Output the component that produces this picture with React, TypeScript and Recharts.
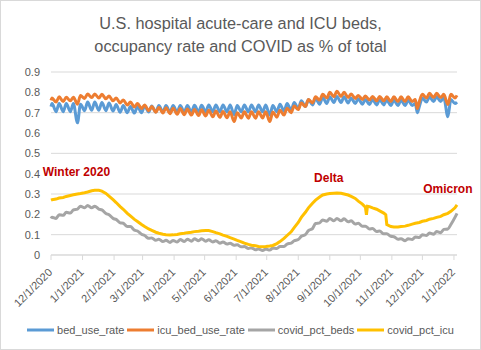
import React from 'react';
import { LineChart, Line, XAxis, YAxis, CartesianGrid, ReferenceDot } from 'recharts';

// Day offsets since 12/1/2020
const days = [0,1,5,8,12,15,19,22,26,29,33,36,40,43,47,50,54,57,61,64,68,71,75,78,82,85,89,92,96,99,103,106,110,113,117,120,124,127,131,134,138,141,145,148,152,155,159,162,166,169,173,176,180,183,187,190,194,197,201,204,208,211,215,218,222,225,229,232,236,239,243,246,250,253,257,260,264,267,271,274,278,281,285,288,292,295,299,302,306,309,310,311,313,316,320,323,327,329,330,334,337,341,344,348,351,355,358,360,362,365,369,372,376,379,383,386,390,393,397,399];

const bedUseRate = [0.73,0.745,0.705,0.745,0.705,0.745,0.705,0.745,0.65,0.742,0.71,0.752,0.712,0.752,0.712,0.75,0.71,0.748,0.708,0.74,0.702,0.735,0.7,0.73,0.698,0.73,0.7,0.733,0.703,0.733,0.703,0.735,0.703,0.735,0.703,0.735,0.703,0.735,0.703,0.735,0.703,0.736,0.704,0.736,0.704,0.738,0.704,0.738,0.704,0.738,0.704,0.738,0.69,0.735,0.704,0.738,0.704,0.738,0.704,0.738,0.704,0.738,0.688,0.735,0.705,0.742,0.708,0.745,0.712,0.75,0.72,0.758,0.73,0.765,0.738,0.77,0.742,0.775,0.745,0.778,0.75,0.78,0.75,0.778,0.748,0.772,0.745,0.768,0.742,0.765,null,null,0.74,0.765,0.738,0.765,0.738,null,0.762,0.735,0.762,0.735,0.762,0.735,0.762,0.735,0.745,0.7,0.73,0.772,0.752,0.778,0.755,0.778,0.755,0.775,0.68,0.765,0.745,0.752];

const icuBedUseRate = [0.76,0.772,0.752,0.778,0.755,0.776,0.758,0.776,0.742,0.785,0.77,0.792,0.774,0.792,0.772,0.79,0.768,0.782,0.758,0.772,0.748,0.762,0.738,0.752,0.728,0.745,0.72,0.738,0.71,0.73,0.702,0.726,0.698,0.724,0.695,0.722,0.692,0.72,0.69,0.718,0.688,0.716,0.686,0.714,0.684,0.712,0.68,0.708,0.677,0.706,0.675,0.705,0.656,0.7,0.674,0.704,0.673,0.704,0.673,0.704,0.674,0.705,0.656,0.703,0.678,0.712,0.688,0.722,0.7,0.733,0.715,0.748,0.73,0.765,0.748,0.778,0.762,0.79,0.772,0.8,0.778,0.805,0.78,0.8,0.775,0.792,0.77,0.785,0.765,0.782,null,null,0.762,0.78,0.758,0.78,0.758,null,0.778,0.755,0.778,0.755,0.778,0.755,0.778,0.755,0.765,0.72,0.755,0.79,0.772,0.795,0.774,0.795,0.774,0.79,0.74,0.79,0.772,0.785];

const covidPctBeds = [0.18,0.186,0.18,0.198,0.195,0.21,0.206,0.222,0.226,0.24,0.232,0.244,0.232,0.24,0.226,0.222,0.204,0.198,0.18,0.175,0.158,0.156,0.14,0.14,0.122,0.118,0.102,0.096,0.082,0.084,0.072,0.078,0.066,0.072,0.062,0.071,0.064,0.076,0.066,0.078,0.068,0.08,0.07,0.08,0.068,0.075,0.064,0.07,0.058,0.064,0.054,0.058,0.048,0.05,0.04,0.042,0.032,0.035,0.026,0.03,0.022,0.03,0.024,0.034,0.032,0.042,0.042,0.054,0.058,0.07,0.076,0.092,0.1,0.12,0.13,0.155,0.158,0.172,0.166,0.18,0.168,0.18,0.168,0.178,0.163,0.168,0.152,0.156,0.142,0.142,null,null,0.128,0.13,0.116,0.118,0.104,null,0.104,0.092,0.09,0.078,0.08,0.07,0.08,0.076,0.088,null,0.086,0.1,0.096,0.108,0.102,0.116,0.11,0.126,0.128,0.15,0.185,0.205];

const covidPctIcu = [0.27,0.272,0.275,0.28,0.283,0.288,0.293,0.296,0.3,0.302,0.306,0.31,0.316,0.318,0.318,0.314,0.303,0.29,0.272,0.258,0.238,0.225,0.205,0.192,0.175,0.165,0.15,0.14,0.128,0.121,0.112,0.107,0.102,0.1,0.098,0.099,0.101,0.104,0.107,0.11,0.112,0.115,0.117,0.119,0.12,0.12,0.115,0.11,0.104,0.098,0.092,0.085,0.078,0.072,0.065,0.058,0.052,0.048,0.045,0.042,0.041,0.042,0.044,0.047,0.056,0.066,0.082,0.096,0.114,0.135,0.16,0.185,0.21,0.232,0.255,0.27,0.285,0.295,0.3,0.302,0.304,0.305,0.304,0.3,0.295,0.288,0.278,0.265,0.25,0.235,0.198,0.24,0.238,0.232,0.225,0.217,0.206,0.198,0.15,0.14,0.138,0.138,0.14,0.142,0.146,0.152,0.156,null,0.16,0.166,0.17,0.176,0.18,0.185,0.19,0.198,0.205,0.215,0.232,0.246];

const tickLabels = ['12/1/2020','1/1/2021','2/1/2021','3/1/2021','4/1/2021','5/1/2021','6/1/2021','7/1/2021','8/1/2021','9/1/2021','10/1/2021','11/1/2021','12/1/2021','1/1/2022'];
const yTicks = [0, 0.1, 0.2, 0.3, 0.4, 0.5, 0.6, 0.7, 0.8, 0.9];

const seriesNames = ['bed_use_rate', 'icu_bed_use_rate', 'covid_pct_beds', 'covid_pct_icu'];
const seriesColors = ['#5B9BD5', '#ED7D31', '#A5A5A5', '#FFC000'];

const annotations = [
  { text: 'Winter 2020', day: 25, value: 0.41 },
  { text: 'Delta', day: 273, value: 0.38 },
  { text: 'Omicron', day: 390, value: 0.325 },
];

const START = Date.UTC(2020, 11, 1);
const labelToDay = (s: string) => {
  const [m, d, y] = s.split('/').map(Number);
  return Math.round((Date.UTC(y, m - 1, d) - START) / 86400000);
};
const tickDays = tickLabels.map(labelToDay);
const dayToLabel = (v: number) => {
  const i = tickDays.indexOf(v);
  return i >= 0 ? tickLabels[i] : '';
};

const seriesValues = [bedUseRate, icuBedUseRate, covidPctBeds, covidPctIcu];
const data = days.map((d, i) => {
  const row: Record<string, number | null> = { day: d };
  seriesNames.forEach((n, k) => { row[n] = seriesValues[k][i]; });
  return row;
});

const FONT = '"Liberation Sans", Arial, sans-serif';
const TEXT = '#595959';

const XTick = (props: any) => {
  const { x, y, payload } = props;
  return (
    <g transform={`translate(${x + 2},${y + 11}) rotate(-45)`}>
      <text x={0} y={0} textAnchor="end" fill={TEXT} fontSize={11} fontFamily={FONT}>
        {dayToLabel(payload.value)}
      </text>
    </g>
  );
};

export default function App() {
  return (
    <div style={{ position: 'absolute', left: 0, top: 0, width: 481, height: 350, background: '#fff', fontFamily: FONT }}>
      <div style={{ position: 'absolute', left: 0, top: 0, width: 481, height: 350, boxSizing: 'border-box', border: '1px solid #d9d9d9' }} />
      <div style={{ position: 'absolute', left: 0, top: 12, width: 481, textAlign: 'center', color: TEXT, fontSize: 16.3, lineHeight: '23px' }}>
        <div>U.S. hospital acute-care and ICU beds,</div>
        <div>occupancy rate and COVID as % of total</div>
      </div>
      <div style={{ position: 'absolute', left: 0, top: 0 }}>
        <LineChart width={481} height={350} data={data} margin={{ top: 72, right: 24, left: 7, bottom: 0 }}>
          <CartesianGrid horizontal vertical={false} stroke="#d9d9d9" />
          <XAxis
            dataKey="day"
            type="number"
            domain={[0, 399]}
            ticks={tickDays}
            interval={0}
            height={95}
            stroke="#d9d9d9"
            tickSize={5}
            tick={<XTick />}
          />
          <YAxis
            type="number"
            domain={[0, 0.9]}
            ticks={yTicks}
            width={44}
            axisLine={false}
            tickLine={false}
            tickMargin={5}
            tick={{ fill: TEXT, fontSize: 11, fontFamily: FONT }}
            tickFormatter={(v: number) => (v === 0 ? '0' : v.toFixed(1))}
          />
          {seriesNames.map((n, k) => (
            <Line
              key={n}
              dataKey={n}
              name={n}
              type={k < 3 ? 'monotone' : 'linear'}
              stroke={seriesColors[k]}
              strokeWidth={3}
              dot={false}
              connectNulls
              isAnimationActive={false}
            />
          ))}
          {annotations.map((a) => (
            <ReferenceDot
              key={a.text}
              x={a.day}
              y={a.value}
              r={0}
              stroke="none"
              fill="none"
              label={{ value: a.text, position: 'center', fill: '#C00000', fontSize: 12, fontWeight: 'bold', fontFamily: FONT }}
            />
          ))}
        </LineChart>
      </div>
      <div style={{ position: 'absolute', left: 0, top: 322, width: 481, height: 16, display: 'flex', justifyContent: 'center', alignItems: 'center', fontSize: 11, color: TEXT }}>
        {seriesNames.map((n, k) => (
          <div key={n} style={{ display: 'flex', alignItems: 'center', marginRight: k < 3 ? 3 : 0 }}>
            <svg width={27} height={6} style={{ marginRight: 3 }}>
              <line x1={0} y1={3} x2={27} y2={3} stroke={seriesColors[k]} strokeWidth={3} />
            </svg>
            <span>{n}</span>
          </div>
        ))}
      </div>
    </div>
  );
}
